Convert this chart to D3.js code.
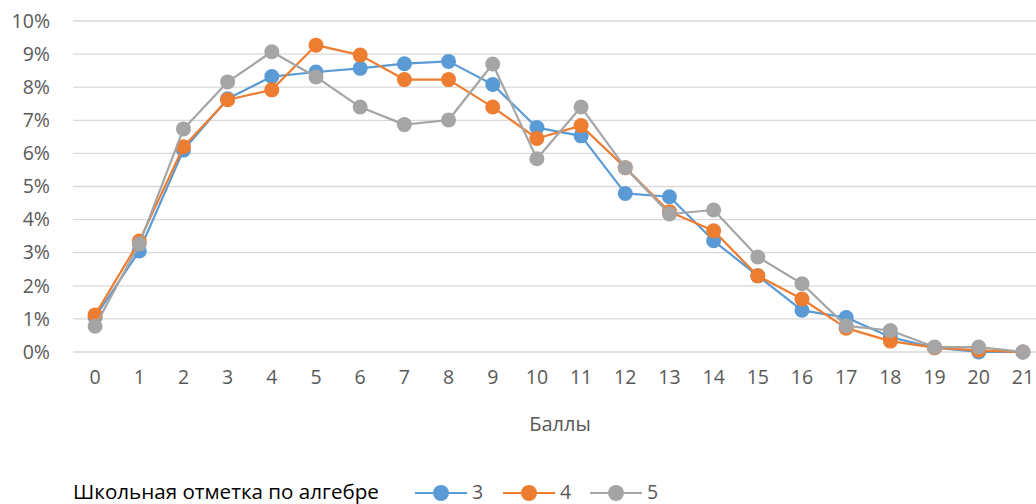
<!DOCTYPE html>
<html><head><meta charset="utf-8">
<script src="https://cdn.jsdelivr.net/npm/d3@7"></script>
<style>body{margin:0;background:#fff;}svg{display:block;font-family:"Open Sans",sans-serif;}</style>
</head><body>
<svg id="c" width="1036" height="504"></svg>
<script>
const categories = d3.range(0, 22).map(String);
const series3 = [1.05,3.05,6.1,7.65,8.32,8.46,8.57,8.71,8.78,8.08,6.78,6.53,4.79,4.69,3.36,2.3,1.26,1.04,0.45,0.13,0.0,0.0];
const series4 = [1.12,3.35,6.2,7.62,7.92,9.27,8.97,8.23,8.23,7.40,6.45,6.84,5.57,4.24,3.66,2.3,1.6,0.72,0.33,0.13,0.05,0.0];
const series5 = [0.78,3.26,6.74,8.16,9.07,8.31,7.40,6.87,7.01,8.70,5.84,7.40,5.57,4.17,4.29,2.87,2.06,0.79,0.65,0.15,0.15,0.0];
const seriesNames = ["3","4","5"];
const yTicks = [0,1,2,3,4,5,6,7,8,9,10];
const xTitle = "Баллы";
const legendTitle = "Школьная отметка по алгебре";
const colors = ["#5B9BD5","#ED7D31","#A5A5A5"];
const allSeries = [series3, series4, series5];

const svg = d3.select("#c");
const x = d3.scaleBand().domain(categories).range([73, 1045]);
const cx = d => x(d) + x.bandwidth()/2;
const y = d3.scaleLinear().domain([0,10]).range([352, 21]);

// gridlines
svg.append("g").selectAll("line").data(yTicks).join("line")
  .attr("x1", 73).attr("x2", 1036)
  .attr("y1", d => y(d)).attr("y2", d => y(d))
  .attr("stroke", "#D9D9D9").attr("stroke-width", 1.3);

// y axis labels
const yAxis = d3.axisLeft(y).tickValues(yTicks).tickFormat(d => d + "%").tickSize(0).tickPadding(0);
svg.append("g").attr("transform", "translate(50,0)").call(yAxis)
  .call(g => g.select(".domain").remove())
  .call(g => g.selectAll("text").attr("fill", "#595959").attr("font-size", 19.5).attr("font-family", "Open Sans"));

// x axis labels
const xAxis = d3.axisBottom(x).tickSize(0).tickPadding(0);
svg.append("g").attr("transform", "translate(0,370)").call(xAxis)
  .call(g => g.select(".domain").remove())
  .call(g => g.selectAll("text").attr("fill", "#595959").attr("font-size", 19.5).attr("font-family", "Open Sans"));

// x title
svg.append("text").attr("x", 560).attr("y", 431).attr("text-anchor", "middle")
  .attr("fill", "#595959").attr("font-size", 20).text(xTitle);

// lines and markers
const line = d3.line().x((d,i) => cx(categories[i])).y(d => y(d));
allSeries.forEach((s, k) => {
  const g = svg.append("g");
  g.append("path").datum(s).attr("d", line).attr("fill", "none")
    .attr("stroke", colors[k]).attr("stroke-width", 2.2).attr("stroke-linejoin", "round");
  g.selectAll("circle").data(s).join("circle")
    .attr("cx", (d,i) => cx(categories[i])).attr("cy", d => y(d)).attr("r", 7.5)
    .attr("fill", colors[k]);
});

// legend
const lg = svg.append("g");
lg.append("text").attr("x", 73).attr("y", 499).attr("fill", "#000").attr("font-size", 20.6).text(legendTitle);
const legX = [415, 503, 590];
seriesNames.forEach((n, k) => {
  lg.append("line").attr("x1", legX[k]).attr("x2", legX[k] + 52).attr("y1", 493).attr("y2", 493)
    .attr("stroke", colors[k]).attr("stroke-width", 2.2);
  lg.append("circle").attr("cx", legX[k] + 26).attr("cy", 493).attr("r", 8).attr("fill", colors[k]);
  lg.append("text").attr("x", legX[k] + 57).attr("y", 499).attr("fill", "#595959").attr("font-size", 19.5).text(n);
});
</script>
</body></html>
